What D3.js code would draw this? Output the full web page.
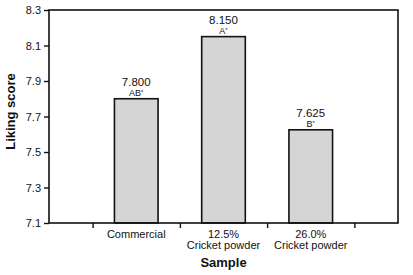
<!DOCTYPE html>
<html>
<head>
<meta charset="utf-8">
<script src="https://cdn.jsdelivr.net/npm/d3@7"></script>
<style>
  body { margin: 0; background: #fff; }
  text { font-family: "Liberation Sans", Arial, sans-serif; fill: #111; }
</style>
</head>
<body>
<div id="chart"></div>
<script>
// data
const samples = ["Commercial", "12.5%\nCricket powder", "26.0%\nCricket powder"];
const scores = [7.800, 8.150, 7.625];
const groups = ["AB*", "A*", "B*"];
const yTicks = [7.1, 7.3, 7.5, 7.7, 7.9, 8.1, 8.3];

var margin = { top: 10, right: 15, bottom: 52, left: 49 },
  width = 413 - margin.left - margin.right,
  height = 275 - margin.top - margin.bottom;

var svg = d3.select("#chart").append("svg")
  .attr("width", 413)
  .attr("height", 275)
  .append("g")
  .attr("transform", "translate(" + margin.left + "," + margin.top + ")");

// x is positional: bars sit at 1,2,3, ticks fall between them
var x = d3.scaleLinear().domain([0, 4]).range([0, width]);
var y = d3.scaleLinear().domain([7.1, 8.3]).range([height, 0]);
const barW = (x(1) - x(0)) / 2;

// bars
svg.selectAll("rect.bar")
  .data(scores)
  .enter().append("rect")
  .attr("class", "bar")
  .attr("x", (d, i) => x(i + 1) - barW / 2)
  .attr("y", d => y(d))
  .attr("width", barW)
  .attr("height", d => height - y(d))
  .attr("fill", "#d5d5d5")
  .attr("stroke", "#111")
  .attr("stroke-width", 1.6);

// value labels
svg.selectAll("text.val")
  .data(scores)
  .enter().append("text")
  .attr("class", "val")
  .attr("x", (d, i) => x(i + 1))
  .attr("y", d => y(d) - 12.5)
  .attr("text-anchor", "middle")
  .attr("font-size", "11.5px")
  .text(d => d3.format(".3f")(d));

var grp = svg.selectAll("text.grp")
  .data(groups)
  .enter().append("text")
  .attr("class", "grp")
  .attr("x", (d, i) => x(i + 1))
  .attr("y", (d, i) => y(scores[i]) - 3)
  .attr("text-anchor", "middle")
  .attr("font-size", "9px");
grp.append("tspan").text(d => d.replace("*", ""));
grp.append("tspan")
  .attr("font-size", "6px")
  .attr("dy", "-2")
  .text("*");

// frame
svg.append("rect")
  .attr("width", width)
  .attr("height", height)
  .attr("fill", "none")
  .attr("stroke", "#111")
  .attr("stroke-width", 1.6);

// y axis
var yAxis = d3.axisLeft(y).tickValues(yTicks).tickFormat(d3.format(".1f")).tickSize(5).tickPadding(3);
var yg = svg.append("g").call(yAxis);
yg.select(".domain").remove();
yg.selectAll("line").attr("stroke", "#111").attr("stroke-width", 1.4);
yg.selectAll("text").attr("font-size", "11px").attr("font-family", "Liberation Sans, Arial, sans-serif").attr("fill", "#111");

// x ticks between samples
var xAxis = d3.axisBottom(x).tickValues([0.5, 1.5, 2.5, 3.5]).tickSize(5).tickFormat("");
var xg = svg.append("g").attr("transform", "translate(0," + height + ")").call(xAxis);
xg.select(".domain").remove();
xg.selectAll("line").attr("stroke", "#111").attr("stroke-width", 1.4);

// sample labels
svg.selectAll("text.cat")
  .data(samples)
  .enter().append("text")
  .attr("class", "cat")
  .attr("x", (d, i) => x(i + 1))
  .attr("y", height + 15)
  .attr("text-anchor", "middle")
  .attr("font-size", "11px")
  .each(function (d) {
    const lines = d.split("\n");
    d3.select(this).selectAll("tspan").data(lines).enter().append("tspan")
      .attr("x", d3.select(this).attr("x"))
      .attr("dy", (l, j) => j === 0 ? 0 : 11)
      .text(l => l);
  });

// axis titles
svg.append("text")
  .attr("x", width / 2)
  .attr("y", height + 44)
  .attr("text-anchor", "middle")
  .attr("font-size", "13px")
  .attr("font-weight", "bold")
  .text("Sample");

svg.append("text")
  .attr("transform", "rotate(-90)")
  .attr("x", -101.5)
  .attr("y", -34)
  .attr("text-anchor", "middle")
  .attr("font-size", "13px")
  .attr("font-weight", "bold")
  .text("Liking score");
</script>
</body>
</html>
